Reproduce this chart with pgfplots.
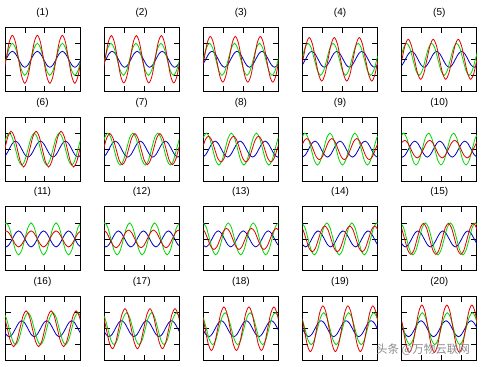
\documentclass[border=0pt]{standalone}
\usepackage{pgfplots}
\pgfplotsset{compat=1.18}
\usepackage{fontspec}
\setmainfont{Liberation Sans}
\newfontfamily\cjk{Noto Sans CJK SC}
\definecolor{mred}{RGB}{225,0,0}
\definecolor{mgreen}{RGB}{0,215,0}
\definecolor{mblue}{RGB}{0,0,195}
\pgfplotsset{
  mini/.style={width=75bp, height=64bp, scale only axis, anchor=north west,
    xmin=0, xmax=24, ymin=-2, ymax=2,
    xtick={6.366,12.732,19.099}, ytick={-1,0,1},
    xticklabels={}, yticklabels={},
    major tick length=5.5bp, tick align=inside,
    tick style={black, line width=0.7bp},
    axis line style={black, line width=0.8bp},
    every axis title/.style={at={(0.5,1)}, anchor=center, yshift=14.6bp, font=\fontsize{10bp}{11bp}\selectfont},
    clip=true},
  cb/.style={color=mblue, line width=0.8bp, smooth},
  cg/.style={color=mgreen, line width=0.8bp, smooth},
  cr/.style={color=mred, line width=0.8bp, smooth},
}
\begin{document}
\begin{tikzpicture}
\path[use as bounding box] (0,0) rectangle (484bp,367bp);
% ---------------- row 1 ----------------
\begin{axis}[mini, at={(5bp,339.7bp)}, title={(1)}]
\addplot[cb] coordinates {(-0.65,-0.35)(0.35,0)(1.35,0.35)(2.35,0.5)(3.35,0.35)(4.35,0)(5.35,-0.35)(6.35,-0.5)(7.35,-0.35)(8.35,0)(9.35,0.35)(10.35,0.5)(11.35,0.35)(12.35,0)(13.35,-0.35)(14.35,-0.5)(15.35,-0.35)(16.35,0)(17.35,0.35)(18.35,0.5)(19.35,0.35)(20.35,0)(21.35,-0.35)(22.35,-0.5)(23.35,-0.35)(24.35,0)};
\addplot[cg] coordinates {(-0.65,-0.71)(0.35,0)(1.35,0.71)(2.35,1)(3.35,0.71)(4.35,0)(5.35,-0.71)(6.35,-1)(7.35,-0.71)(8.35,0)(9.35,0.71)(10.35,1)(11.35,0.71)(12.35,0)(13.35,-0.71)(14.35,-1)(15.35,-0.71)(16.35,0)(17.35,0.71)(18.35,1)(19.35,0.71)(20.35,0)(21.35,-0.71)(22.35,-1)(23.35,-0.71)(24.35,0)};
\addplot[cr] coordinates {(-0.65,-1.06)(0.35,0)(1.35,1.06)(2.35,1.5)(3.35,1.06)(4.35,0)(5.35,-1.06)(6.35,-1.5)(7.35,-1.06)(8.35,0)(9.35,1.06)(10.35,1.5)(11.35,1.06)(12.35,0)(13.35,-1.06)(14.35,-1.5)(15.35,-1.06)(16.35,0)(17.35,1.06)(18.35,1.5)(19.35,1.06)(20.35,0)(21.35,-1.06)(22.35,-1.5)(23.35,-1.06)(24.35,0)};
\end{axis}
\begin{axis}[mini, at={(104.2bp,339.7bp)}, title={(2)}]
\addplot[cb] coordinates {(-0.45,-0.35)(0.55,0)(1.55,0.35)(2.55,0.5)(3.55,0.35)(4.55,0)(5.55,-0.35)(6.55,-0.5)(7.55,-0.35)(8.55,0)(9.55,0.35)(10.55,0.5)(11.55,0.35)(12.55,0)(13.55,-0.35)(14.55,-0.5)(15.55,-0.35)(16.55,0)(17.55,0.35)(18.55,0.5)(19.55,0.35)(20.55,0)(21.55,-0.35)(22.55,-0.5)(23.55,-0.35)(24.55,0)};
\addplot[cg] coordinates {(-0.85,-0.71)(0.15,0)(1.15,0.71)(2.15,1)(3.15,0.71)(4.15,0)(5.15,-0.71)(6.15,-1)(7.15,-0.71)(8.15,0)(9.15,0.71)(10.15,1)(11.15,0.71)(12.15,0)(13.15,-0.71)(14.15,-1)(15.15,-0.71)(16.15,0)(17.15,0.71)(18.15,1)(19.15,0.71)(20.15,0)(21.15,-0.71)(22.15,-1)(23.15,-0.71)(24.15,0)};
\addplot[cr] coordinates {(-0.72,-1.05)(0.28,0)(1.28,1.05)(2.28,1.48)(3.28,1.05)(4.28,0)(5.28,-1.05)(6.28,-1.48)(7.28,-1.05)(8.28,0)(9.28,1.05)(10.28,1.48)(11.28,1.05)(12.28,0)(13.28,-1.05)(14.28,-1.48)(15.28,-1.05)(16.28,0)(17.28,1.05)(18.28,1.48)(19.28,1.05)(20.28,0)(21.28,-1.05)(22.28,-1.48)(23.28,-1.05)(24.28,0)};
\end{axis}
\begin{axis}[mini, at={(203.4bp,339.7bp)}, title={(3)}]
\addplot[cb] coordinates {(-0.25,-0.35)(0.75,0)(1.75,0.35)(2.75,0.5)(3.75,0.35)(4.75,0)(5.75,-0.35)(6.75,-0.5)(7.75,-0.35)(8.75,0)(9.75,0.35)(10.75,0.5)(11.75,0.35)(12.75,0)(13.75,-0.35)(14.75,-0.5)(15.75,-0.35)(16.75,0)(17.75,0.35)(18.75,0.5)(19.75,0.35)(20.75,0)(21.75,-0.35)(22.75,-0.5)(23.75,-0.35)(24.75,0)};
\addplot[cg] coordinates {(-0.05,0)(0.95,0.71)(1.95,1)(2.95,0.71)(3.95,0)(4.95,-0.71)(5.95,-1)(6.95,-0.71)(7.95,0)(8.95,0.71)(9.95,1)(10.95,0.71)(11.95,0)(12.95,-0.71)(13.95,-1)(14.95,-0.71)(15.95,0)(16.95,0.71)(17.95,1)(18.95,0.71)(19.95,0)(20.95,-0.71)(21.95,-1)(22.95,-0.71)(23.95,0)(24.95,0.71)};
\addplot[cr] coordinates {(-0.79,-1.01)(0.21,0)(1.21,1.01)(2.21,1.43)(3.21,1.01)(4.21,0)(5.21,-1.01)(6.21,-1.43)(7.21,-1.01)(8.21,0)(9.21,1.01)(10.21,1.43)(11.21,1.01)(12.21,0)(13.21,-1.01)(14.21,-1.43)(15.21,-1.01)(16.21,0)(17.21,1.01)(18.21,1.43)(19.21,1.01)(20.21,0)(21.21,-1.01)(22.21,-1.43)(23.21,-1.01)(24.21,0)};
\end{axis}
\begin{axis}[mini, at={(302.6bp,339.7bp)}, title={(4)}]
\addplot[cb] coordinates {(-0.05,-0.35)(0.95,0)(1.95,0.35)(2.95,0.5)(3.95,0.35)(4.95,0)(5.95,-0.35)(6.95,-0.5)(7.95,-0.35)(8.95,0)(9.95,0.35)(10.95,0.5)(11.95,0.35)(12.95,0)(13.95,-0.35)(14.95,-0.5)(15.95,-0.35)(16.95,0)(17.95,0.35)(18.95,0.5)(19.95,0.35)(20.95,0)(21.95,-0.35)(22.95,-0.5)(23.95,-0.35)(24.95,0)};
\addplot[cg] coordinates {(-0.25,0)(0.75,0.71)(1.75,1)(2.75,0.71)(3.75,0)(4.75,-0.71)(5.75,-1)(6.75,-0.71)(7.75,0)(8.75,0.71)(9.75,1)(10.75,0.71)(11.75,0)(12.75,-0.71)(13.75,-1)(14.75,-0.71)(15.75,0)(16.75,0.71)(17.75,1)(18.75,0.71)(19.75,0)(20.75,-0.71)(21.75,-1)(22.75,-0.71)(23.75,0)(24.75,0.71)};
\addplot[cr] coordinates {(-0.86,-0.96)(0.14,0)(1.14,0.96)(2.14,1.36)(3.14,0.96)(4.14,0)(5.14,-0.96)(6.14,-1.36)(7.14,-0.96)(8.14,0)(9.14,0.96)(10.14,1.36)(11.14,0.96)(12.14,0)(13.14,-0.96)(14.14,-1.36)(15.14,-0.96)(16.14,0)(17.14,0.96)(18.14,1.36)(19.14,0.96)(20.14,0)(21.14,-0.96)(22.14,-1.36)(23.14,-0.96)(24.14,0)};
\end{axis}
\begin{axis}[mini, at={(401.8bp,339.7bp)}, title={(5)}]
\addplot[cb] coordinates {(-0.85,-0.5)(0.15,-0.35)(1.15,0)(2.15,0.35)(3.15,0.5)(4.15,0.35)(5.15,0)(6.15,-0.35)(7.15,-0.5)(8.15,-0.35)(9.15,0)(10.15,0.35)(11.15,0.5)(12.15,0.35)(13.15,0)(14.15,-0.35)(15.15,-0.5)(16.15,-0.35)(17.15,0)(18.15,0.35)(19.15,0.5)(20.15,0.35)(21.15,0)(22.15,-0.35)(23.15,-0.5)(24.15,-0.35)};
\addplot[cg] coordinates {(-0.45,0)(0.55,0.71)(1.55,1)(2.55,0.71)(3.55,0)(4.55,-0.71)(5.55,-1)(6.55,-0.71)(7.55,0)(8.55,0.71)(9.55,1)(10.55,0.71)(11.55,0)(12.55,-0.71)(13.55,-1)(14.55,-0.71)(15.55,0)(16.55,0.71)(17.55,1)(18.55,0.71)(19.55,0)(20.55,-0.71)(21.55,-1)(22.55,-0.71)(23.55,0)(24.55,0.71)};
\addplot[cr] coordinates {(-0.95,-0.88)(0.05,0)(1.05,0.88)(2.05,1.25)(3.05,0.88)(4.05,0)(5.05,-0.88)(6.05,-1.25)(7.05,-0.88)(8.05,0)(9.05,0.88)(10.05,1.25)(11.05,0.88)(12.05,0)(13.05,-0.88)(14.05,-1.25)(15.05,-0.88)(16.05,0)(17.05,0.88)(18.05,1.25)(19.05,0.88)(20.05,0)(21.05,-0.88)(22.05,-1.25)(23.05,-0.88)(24.05,0)};
\end{axis}
% ---------------- row 2 ----------------
\begin{axis}[mini, at={(5bp,249.9bp)}, title={(6)}]
\addplot[cb] coordinates {(-0.65,-0.5)(0.35,-0.35)(1.35,0)(2.35,0.35)(3.35,0.5)(4.35,0.35)(5.35,0)(6.35,-0.35)(7.35,-0.5)(8.35,-0.35)(9.35,0)(10.35,0.35)(11.35,0.5)(12.35,0.35)(13.35,0)(14.35,-0.35)(15.35,-0.5)(16.35,-0.35)(17.35,0)(18.35,0.35)(19.35,0.5)(20.35,0.35)(21.35,0)(22.35,-0.35)(23.35,-0.5)(24.35,-0.35)};
\addplot[cg] coordinates {(-0.65,0)(0.35,0.71)(1.35,1)(2.35,0.71)(3.35,0)(4.35,-0.71)(5.35,-1)(6.35,-0.71)(7.35,0)(8.35,0.71)(9.35,1)(10.35,0.71)(11.35,0)(12.35,-0.71)(13.35,-1)(14.35,-0.71)(15.35,0)(16.35,0.71)(17.35,1)(18.35,0.71)(19.35,0)(20.35,-0.71)(21.35,-1)(22.35,-0.71)(23.35,0)(24.35,0.71)};
\addplot[cr] coordinates {(-0.06,0)(0.94,0.79)(1.94,1.12)(2.94,0.79)(3.94,0)(4.94,-0.79)(5.94,-1.12)(6.94,-0.79)(7.94,0)(8.94,0.79)(9.94,1.12)(10.94,0.79)(11.94,0)(12.94,-0.79)(13.94,-1.12)(14.94,-0.79)(15.94,0)(16.94,0.79)(17.94,1.12)(18.94,0.79)(19.94,0)(20.94,-0.79)(21.94,-1.12)(22.94,-0.79)(23.94,0)(24.94,0.79)};
\end{axis}
\begin{axis}[mini, at={(104.2bp,249.9bp)}, title={(7)}]
\addplot[cb] coordinates {(-0.45,-0.5)(0.55,-0.35)(1.55,0)(2.55,0.35)(3.55,0.5)(4.55,0.35)(5.55,0)(6.55,-0.35)(7.55,-0.5)(8.55,-0.35)(9.55,0)(10.55,0.35)(11.55,0.5)(12.55,0.35)(13.55,0)(14.55,-0.35)(15.55,-0.5)(16.55,-0.35)(17.55,0)(18.55,0.35)(19.55,0.5)(20.55,0.35)(21.55,0)(22.55,-0.35)(23.55,-0.5)(24.55,-0.35)};
\addplot[cg] coordinates {(-0.85,0)(0.15,0.71)(1.15,1)(2.15,0.71)(3.15,0)(4.15,-0.71)(5.15,-1)(6.15,-0.71)(7.15,0)(8.15,0.71)(9.15,1)(10.15,0.71)(11.15,0)(12.15,-0.71)(13.15,-1)(14.15,-0.71)(15.15,0)(16.15,0.71)(17.15,1)(18.15,0.71)(19.15,0)(20.15,-0.71)(21.15,-1)(22.15,-0.71)(23.15,0)(24.15,0.71)};
\addplot[cr] coordinates {(-0.2,0)(0.8,0.69)(1.8,0.97)(2.8,0.69)(3.8,0)(4.8,-0.69)(5.8,-0.97)(6.8,-0.69)(7.8,0)(8.8,0.69)(9.8,0.97)(10.8,0.69)(11.8,0)(12.8,-0.69)(13.8,-0.97)(14.8,-0.69)(15.8,0)(16.8,0.69)(17.8,0.97)(18.8,0.69)(19.8,0)(20.8,-0.69)(21.8,-0.97)(22.8,-0.69)(23.8,0)(24.8,0.69)};
\end{axis}
\begin{axis}[mini, at={(203.4bp,249.9bp)}, title={(8)}]
\addplot[cb] coordinates {(-0.25,-0.5)(0.75,-0.35)(1.75,0)(2.75,0.35)(3.75,0.5)(4.75,0.35)(5.75,0)(6.75,-0.35)(7.75,-0.5)(8.75,-0.35)(9.75,0)(10.75,0.35)(11.75,0.5)(12.75,0.35)(13.75,0)(14.75,-0.35)(15.75,-0.5)(16.75,-0.35)(17.75,0)(18.75,0.35)(19.75,0.5)(20.75,0.35)(21.75,0)(22.75,-0.35)(23.75,-0.5)(24.75,-0.35)};
\addplot[cg] coordinates {(-0.05,0.71)(0.95,1)(1.95,0.71)(2.95,0)(3.95,-0.71)(4.95,-1)(5.95,-0.71)(6.95,0)(7.95,0.71)(8.95,1)(9.95,0.71)(10.95,0)(11.95,-0.71)(12.95,-1)(13.95,-0.71)(14.95,0)(15.95,0.71)(16.95,1)(17.95,0.71)(18.95,0)(19.95,-0.71)(20.95,-1)(21.95,-0.71)(22.95,0)(23.95,0.71)(24.95,1)};
\addplot[cr] coordinates {(-0.39,0)(0.61,0.58)(1.61,0.81)(2.61,0.58)(3.61,0)(4.61,-0.58)(5.61,-0.81)(6.61,-0.58)(7.61,0)(8.61,0.58)(9.61,0.81)(10.61,0.58)(11.61,0)(12.61,-0.58)(13.61,-0.81)(14.61,-0.58)(15.61,0)(16.61,0.58)(17.61,0.81)(18.61,0.58)(19.61,0)(20.61,-0.58)(21.61,-0.81)(22.61,-0.58)(23.61,0)(24.61,0.58)};
\end{axis}
\begin{axis}[mini, at={(302.6bp,249.9bp)}, title={(9)}]
\addplot[cb] coordinates {(-0.05,-0.5)(0.95,-0.35)(1.95,0)(2.95,0.35)(3.95,0.5)(4.95,0.35)(5.95,0)(6.95,-0.35)(7.95,-0.5)(8.95,-0.35)(9.95,0)(10.95,0.35)(11.95,0.5)(12.95,0.35)(13.95,0)(14.95,-0.35)(15.95,-0.5)(16.95,-0.35)(17.95,0)(18.95,0.35)(19.95,0.5)(20.95,0.35)(21.95,0)(22.95,-0.35)(23.95,-0.5)(24.95,-0.35)};
\addplot[cg] coordinates {(-0.25,0.71)(0.75,1)(1.75,0.71)(2.75,0)(3.75,-0.71)(4.75,-1)(5.75,-0.71)(6.75,0)(7.75,0.71)(8.75,1)(9.75,0.71)(10.75,0)(11.75,-0.71)(12.75,-1)(13.75,-0.71)(14.75,0)(15.75,0.71)(16.75,1)(17.75,0.71)(18.75,0)(19.75,-0.71)(20.75,-1)(21.75,-0.71)(22.75,0)(23.75,0.71)(24.75,1)};
\addplot[cr] coordinates {(-0.67,0)(0.33,0.47)(1.33,0.66)(2.33,0.47)(3.33,0)(4.33,-0.47)(5.33,-0.66)(6.33,-0.47)(7.33,0)(8.33,0.47)(9.33,0.66)(10.33,0.47)(11.33,0)(12.33,-0.47)(13.33,-0.66)(14.33,-0.47)(15.33,0)(16.33,0.47)(17.33,0.66)(18.33,0.47)(19.33,0)(20.33,-0.47)(21.33,-0.66)(22.33,-0.47)(23.33,0)(24.33,0.47)};
\end{axis}
\begin{axis}[mini, at={(401.8bp,249.9bp)}, title={(10)}]
\addplot[cb] coordinates {(-0.85,-0.35)(0.15,-0.5)(1.15,-0.35)(2.15,0)(3.15,0.35)(4.15,0.5)(5.15,0.35)(6.15,0)(7.15,-0.35)(8.15,-0.5)(9.15,-0.35)(10.15,0)(11.15,0.35)(12.15,0.5)(13.15,0.35)(14.15,0)(15.15,-0.35)(16.15,-0.5)(17.15,-0.35)(18.15,0)(19.15,0.35)(20.15,0.5)(21.15,0.35)(22.15,0)(23.15,-0.35)(24.15,-0.5)};
\addplot[cg] coordinates {(-0.45,0.71)(0.55,1)(1.55,0.71)(2.55,0)(3.55,-0.71)(4.55,-1)(5.55,-0.71)(6.55,0)(7.55,0.71)(8.55,1)(9.55,0.71)(10.55,0)(11.55,-0.71)(12.55,-1)(13.55,-0.71)(14.55,0)(15.55,0.71)(16.55,1)(17.55,0.71)(18.55,0)(19.55,-0.71)(20.55,-1)(21.55,-0.71)(22.55,0)(23.55,0.71)(24.55,1)};
\addplot[cr] coordinates {(-0.09,0.39)(0.91,0.55)(1.91,0.39)(2.91,0)(3.91,-0.39)(4.91,-0.55)(5.91,-0.39)(6.91,0)(7.91,0.39)(8.91,0.55)(9.91,0.39)(10.91,0)(11.91,-0.39)(12.91,-0.55)(13.91,-0.39)(14.91,0)(15.91,0.39)(16.91,0.55)(17.91,0.39)(18.91,0)(19.91,-0.39)(20.91,-0.55)(21.91,-0.39)(22.91,0)(23.91,0.39)(24.91,0.55)};
\end{axis}
% ---------------- row 3 ----------------
\begin{axis}[mini, at={(5bp,160.1bp)}, title={(11)}]
\addplot[cb] coordinates {(-0.65,-0.35)(0.35,-0.5)(1.35,-0.35)(2.35,0)(3.35,0.35)(4.35,0.5)(5.35,0.35)(6.35,0)(7.35,-0.35)(8.35,-0.5)(9.35,-0.35)(10.35,0)(11.35,0.35)(12.35,0.5)(13.35,0.35)(14.35,0)(15.35,-0.35)(16.35,-0.5)(17.35,-0.35)(18.35,0)(19.35,0.35)(20.35,0.5)(21.35,0.35)(22.35,0)(23.35,-0.35)(24.35,-0.5)};
\addplot[cg] coordinates {(-0.65,0.71)(0.35,1)(1.35,0.71)(2.35,0)(3.35,-0.71)(4.35,-1)(5.35,-0.71)(6.35,0)(7.35,0.71)(8.35,1)(9.35,0.71)(10.35,0)(11.35,-0.71)(12.35,-1)(13.35,-0.71)(14.35,0)(15.35,0.71)(16.35,1)(17.35,0.71)(18.35,0)(19.35,-0.71)(20.35,-1)(21.35,-0.71)(22.35,0)(23.35,0.71)(24.35,1)};
\addplot[cr] coordinates {(-0.65,0.35)(0.35,0.5)(1.35,0.35)(2.35,0)(3.35,-0.35)(4.35,-0.5)(5.35,-0.35)(6.35,0)(7.35,0.35)(8.35,0.5)(9.35,0.35)(10.35,0)(11.35,-0.35)(12.35,-0.5)(13.35,-0.35)(14.35,0)(15.35,0.35)(16.35,0.5)(17.35,0.35)(18.35,0)(19.35,-0.35)(20.35,-0.5)(21.35,-0.35)(22.35,0)(23.35,0.35)(24.35,0.5)};
\end{axis}
\begin{axis}[mini, at={(104.2bp,160.1bp)}, title={(12)}]
\addplot[cb] coordinates {(-0.45,-0.35)(0.55,-0.5)(1.55,-0.35)(2.55,0)(3.55,0.35)(4.55,0.5)(5.55,0.35)(6.55,0)(7.55,-0.35)(8.55,-0.5)(9.55,-0.35)(10.55,0)(11.55,0.35)(12.55,0.5)(13.55,0.35)(14.55,0)(15.55,-0.35)(16.55,-0.5)(17.55,-0.35)(18.55,0)(19.55,0.35)(20.55,0.5)(21.55,0.35)(22.55,0)(23.55,-0.35)(24.55,-0.5)};
\addplot[cg] coordinates {(-0.85,0.71)(0.15,1)(1.15,0.71)(2.15,0)(3.15,-0.71)(4.15,-1)(5.15,-0.71)(6.15,0)(7.15,0.71)(8.15,1)(9.15,0.71)(10.15,0)(11.15,-0.71)(12.15,-1)(13.15,-0.71)(14.15,0)(15.15,0.71)(16.15,1)(17.15,0.71)(18.15,0)(19.15,-0.71)(20.15,-1)(21.15,-0.71)(22.15,0)(23.15,0.71)(24.15,1)};
\addplot[cr] coordinates {(-0.21,0.55)(0.79,0.39)(1.79,0)(2.79,-0.39)(3.79,-0.55)(4.79,-0.39)(5.79,0)(6.79,0.39)(7.79,0.55)(8.79,0.39)(9.79,0)(10.79,-0.39)(11.79,-0.55)(12.79,-0.39)(13.79,0)(14.79,0.39)(15.79,0.55)(16.79,0.39)(17.79,0)(18.79,-0.39)(19.79,-0.55)(20.79,-0.39)(21.79,0)(22.79,0.39)(23.79,0.55)(24.79,0.39)};
\end{axis}
\begin{axis}[mini, at={(203.4bp,160.1bp)}, title={(13)}]
\addplot[cb] coordinates {(-0.25,-0.35)(0.75,-0.5)(1.75,-0.35)(2.75,0)(3.75,0.35)(4.75,0.5)(5.75,0.35)(6.75,0)(7.75,-0.35)(8.75,-0.5)(9.75,-0.35)(10.75,0)(11.75,0.35)(12.75,0.5)(13.75,0.35)(14.75,0)(15.75,-0.35)(16.75,-0.5)(17.75,-0.35)(18.75,0)(19.75,0.35)(20.75,0.5)(21.75,0.35)(22.75,0)(23.75,-0.35)(24.75,-0.5)};
\addplot[cg] coordinates {(-0.05,1)(0.95,0.71)(1.95,0)(2.95,-0.71)(3.95,-1)(4.95,-0.71)(5.95,0)(6.95,0.71)(7.95,1)(8.95,0.71)(9.95,0)(10.95,-0.71)(11.95,-1)(12.95,-0.71)(13.95,0)(14.95,0.71)(15.95,1)(16.95,0.71)(17.95,0)(18.95,-0.71)(19.95,-1)(20.95,-0.71)(21.95,0)(22.95,0.71)(23.95,1)(24.95,0.71)};
\addplot[cr] coordinates {(-0.63,0.66)(0.37,0.47)(1.37,0)(2.37,-0.47)(3.37,-0.66)(4.37,-0.47)(5.37,0)(6.37,0.47)(7.37,0.66)(8.37,0.47)(9.37,0)(10.37,-0.47)(11.37,-0.66)(12.37,-0.47)(13.37,0)(14.37,0.47)(15.37,0.66)(16.37,0.47)(17.37,0)(18.37,-0.47)(19.37,-0.66)(20.37,-0.47)(21.37,0)(22.37,0.47)(23.37,0.66)(24.37,0.47)};
\end{axis}
\begin{axis}[mini, at={(302.6bp,160.1bp)}, title={(14)}]
\addplot[cb] coordinates {(-0.05,-0.35)(0.95,-0.5)(1.95,-0.35)(2.95,0)(3.95,0.35)(4.95,0.5)(5.95,0.35)(6.95,0)(7.95,-0.35)(8.95,-0.5)(9.95,-0.35)(10.95,0)(11.95,0.35)(12.95,0.5)(13.95,0.35)(14.95,0)(15.95,-0.35)(16.95,-0.5)(17.95,-0.35)(18.95,0)(19.95,0.35)(20.95,0.5)(21.95,0.35)(22.95,0)(23.95,-0.35)(24.95,-0.5)};
\addplot[cg] coordinates {(-0.25,1)(0.75,0.71)(1.75,0)(2.75,-0.71)(3.75,-1)(4.75,-0.71)(5.75,0)(6.75,0.71)(7.75,1)(8.75,0.71)(9.75,0)(10.75,-0.71)(11.75,-1)(12.75,-0.71)(13.75,0)(14.75,0.71)(15.75,1)(16.75,0.71)(17.75,0)(18.75,-0.71)(19.75,-1)(20.75,-0.71)(21.75,0)(22.75,0.71)(23.75,1)(24.75,0.71)};
\addplot[cr] coordinates {(-0.91,0.81)(0.09,0.58)(1.09,0)(2.09,-0.58)(3.09,-0.81)(4.09,-0.58)(5.09,0)(6.09,0.58)(7.09,0.81)(8.09,0.58)(9.09,0)(10.09,-0.58)(11.09,-0.81)(12.09,-0.58)(13.09,0)(14.09,0.58)(15.09,0.81)(16.09,0.58)(17.09,0)(18.09,-0.58)(19.09,-0.81)(20.09,-0.58)(21.09,0)(22.09,0.58)(23.09,0.81)(24.09,0.58)};
\end{axis}
\begin{axis}[mini, at={(401.8bp,160.1bp)}, title={(15)}]
\addplot[cb] coordinates {(-0.85,0)(0.15,-0.35)(1.15,-0.5)(2.15,-0.35)(3.15,0)(4.15,0.35)(5.15,0.5)(6.15,0.35)(7.15,0)(8.15,-0.35)(9.15,-0.5)(10.15,-0.35)(11.15,0)(12.15,0.35)(13.15,0.5)(14.15,0.35)(15.15,0)(16.15,-0.35)(17.15,-0.5)(18.15,-0.35)(19.15,0)(20.15,0.35)(21.15,0.5)(22.15,0.35)(23.15,0)(24.15,-0.35)};
\addplot[cg] coordinates {(-0.45,1)(0.55,0.71)(1.55,0)(2.55,-0.71)(3.55,-1)(4.55,-0.71)(5.55,0)(6.55,0.71)(7.55,1)(8.55,0.71)(9.55,0)(10.55,-0.71)(11.55,-1)(12.55,-0.71)(13.55,0)(14.55,0.71)(15.55,1)(16.55,0.71)(17.55,0)(18.55,-0.71)(19.55,-1)(20.55,-0.71)(21.55,0)(22.55,0.71)(23.55,1)(24.55,0.71)};
\addplot[cr] coordinates {(-0.1,0.69)(0.9,0)(1.9,-0.69)(2.9,-0.97)(3.9,-0.69)(4.9,0)(5.9,0.69)(6.9,0.97)(7.9,0.69)(8.9,0)(9.9,-0.69)(10.9,-0.97)(11.9,-0.69)(12.9,0)(13.9,0.69)(14.9,0.97)(15.9,0.69)(16.9,0)(17.9,-0.69)(18.9,-0.97)(19.9,-0.69)(20.9,0)(21.9,0.69)(22.9,0.97)(23.9,0.69)(24.9,0)};
\end{axis}
% ---------------- row 4 ----------------
\begin{axis}[mini, at={(5bp,70.3bp)}, title={(16)}]
\addplot[cb] coordinates {(-0.65,0)(0.35,-0.35)(1.35,-0.5)(2.35,-0.35)(3.35,0)(4.35,0.35)(5.35,0.5)(6.35,0.35)(7.35,0)(8.35,-0.35)(9.35,-0.5)(10.35,-0.35)(11.35,0)(12.35,0.35)(13.35,0.5)(14.35,0.35)(15.35,0)(16.35,-0.35)(17.35,-0.5)(18.35,-0.35)(19.35,0)(20.35,0.35)(21.35,0.5)(22.35,0.35)(23.35,0)(24.35,-0.35)};
\addplot[cg] coordinates {(-0.65,1)(0.35,0.71)(1.35,0)(2.35,-0.71)(3.35,-1)(4.35,-0.71)(5.35,0)(6.35,0.71)(7.35,1)(8.35,0.71)(9.35,0)(10.35,-0.71)(11.35,-1)(12.35,-0.71)(13.35,0)(14.35,0.71)(15.35,1)(16.35,0.71)(17.35,0)(18.35,-0.71)(19.35,-1)(20.35,-0.71)(21.35,0)(22.35,0.71)(23.35,1)(24.35,0.71)};
\addplot[cr] coordinates {(-0.24,0.79)(0.76,0)(1.76,-0.79)(2.76,-1.12)(3.76,-0.79)(4.76,0)(5.76,0.79)(6.76,1.12)(7.76,0.79)(8.76,0)(9.76,-0.79)(10.76,-1.12)(11.76,-0.79)(12.76,0)(13.76,0.79)(14.76,1.12)(15.76,0.79)(16.76,0)(17.76,-0.79)(18.76,-1.12)(19.76,-0.79)(20.76,0)(21.76,0.79)(22.76,1.12)(23.76,0.79)(24.76,0)};
\end{axis}
\begin{axis}[mini, at={(104.2bp,70.3bp)}, title={(17)}]
\addplot[cb] coordinates {(-0.45,0)(0.55,-0.35)(1.55,-0.5)(2.55,-0.35)(3.55,0)(4.55,0.35)(5.55,0.5)(6.55,0.35)(7.55,0)(8.55,-0.35)(9.55,-0.5)(10.55,-0.35)(11.55,0)(12.55,0.35)(13.55,0.5)(14.55,0.35)(15.55,0)(16.55,-0.35)(17.55,-0.5)(18.55,-0.35)(19.55,0)(20.55,0.35)(21.55,0.5)(22.55,0.35)(23.55,0)(24.55,-0.35)};
\addplot[cg] coordinates {(-0.85,1)(0.15,0.71)(1.15,0)(2.15,-0.71)(3.15,-1)(4.15,-0.71)(5.15,0)(6.15,0.71)(7.15,1)(8.15,0.71)(9.15,0)(10.15,-0.71)(11.15,-1)(12.15,-0.71)(13.15,0)(14.15,0.71)(15.15,1)(16.15,0.71)(17.15,0)(18.15,-0.71)(19.15,-1)(20.15,-0.71)(21.15,0)(22.15,0.71)(23.15,1)(24.15,0.71)};
\addplot[cr] coordinates {(-0.35,0.88)(0.65,0)(1.65,-0.88)(2.65,-1.25)(3.65,-0.88)(4.65,0)(5.65,0.88)(6.65,1.25)(7.65,0.88)(8.65,0)(9.65,-0.88)(10.65,-1.25)(11.65,-0.88)(12.65,0)(13.65,0.88)(14.65,1.25)(15.65,0.88)(16.65,0)(17.65,-0.88)(18.65,-1.25)(19.65,-0.88)(20.65,0)(21.65,0.88)(22.65,1.25)(23.65,0.88)(24.65,0)};
\end{axis}
\begin{axis}[mini, at={(203.4bp,70.3bp)}, title={(18)}]
\addplot[cb] coordinates {(-0.25,0)(0.75,-0.35)(1.75,-0.5)(2.75,-0.35)(3.75,0)(4.75,0.35)(5.75,0.5)(6.75,0.35)(7.75,0)(8.75,-0.35)(9.75,-0.5)(10.75,-0.35)(11.75,0)(12.75,0.35)(13.75,0.5)(14.75,0.35)(15.75,0)(16.75,-0.35)(17.75,-0.5)(18.75,-0.35)(19.75,0)(20.75,0.35)(21.75,0.5)(22.75,0.35)(23.75,0)(24.75,-0.35)};
\addplot[cg] coordinates {(-0.05,0.71)(0.95,0)(1.95,-0.71)(2.95,-1)(3.95,-0.71)(4.95,0)(5.95,0.71)(6.95,1)(7.95,0.71)(8.95,0)(9.95,-0.71)(10.95,-1)(11.95,-0.71)(12.95,0)(13.95,0.71)(14.95,1)(15.95,0.71)(16.95,0)(17.95,-0.71)(18.95,-1)(19.95,-0.71)(20.95,0)(21.95,0.71)(22.95,1)(23.95,0.71)(24.95,0)};
\addplot[cr] coordinates {(-0.44,0.96)(0.56,0)(1.56,-0.96)(2.56,-1.36)(3.56,-0.96)(4.56,0)(5.56,0.96)(6.56,1.36)(7.56,0.96)(8.56,0)(9.56,-0.96)(10.56,-1.36)(11.56,-0.96)(12.56,0)(13.56,0.96)(14.56,1.36)(15.56,0.96)(16.56,0)(17.56,-0.96)(18.56,-1.36)(19.56,-0.96)(20.56,0)(21.56,0.96)(22.56,1.36)(23.56,0.96)(24.56,0)};
\end{axis}
\begin{axis}[mini, at={(302.6bp,70.3bp)}, title={(19)}]
\addplot[cb] coordinates {(-0.05,0)(0.95,-0.35)(1.95,-0.5)(2.95,-0.35)(3.95,0)(4.95,0.35)(5.95,0.5)(6.95,0.35)(7.95,0)(8.95,-0.35)(9.95,-0.5)(10.95,-0.35)(11.95,0)(12.95,0.35)(13.95,0.5)(14.95,0.35)(15.95,0)(16.95,-0.35)(17.95,-0.5)(18.95,-0.35)(19.95,0)(20.95,0.35)(21.95,0.5)(22.95,0.35)(23.95,0)(24.95,-0.35)};
\addplot[cg] coordinates {(-0.25,0.71)(0.75,0)(1.75,-0.71)(2.75,-1)(3.75,-0.71)(4.75,0)(5.75,0.71)(6.75,1)(7.75,0.71)(8.75,0)(9.75,-0.71)(10.75,-1)(11.75,-0.71)(12.75,0)(13.75,0.71)(14.75,1)(15.75,0.71)(16.75,0)(17.75,-0.71)(18.75,-1)(19.75,-0.71)(20.75,0)(21.75,0.71)(22.75,1)(23.75,0.71)(24.75,0)};
\addplot[cr] coordinates {(-0.51,1.01)(0.49,0)(1.49,-1.01)(2.49,-1.43)(3.49,-1.01)(4.49,0)(5.49,1.01)(6.49,1.43)(7.49,1.01)(8.49,0)(9.49,-1.01)(10.49,-1.43)(11.49,-1.01)(12.49,0)(13.49,1.01)(14.49,1.43)(15.49,1.01)(16.49,0)(17.49,-1.01)(18.49,-1.43)(19.49,-1.01)(20.49,0)(21.49,1.01)(22.49,1.43)(23.49,1.01)(24.49,0)};
\end{axis}
\begin{axis}[mini, at={(401.8bp,70.3bp)}, title={(20)}]
\addplot[cb] coordinates {(-0.85,0.35)(0.15,0)(1.15,-0.35)(2.15,-0.5)(3.15,-0.35)(4.15,0)(5.15,0.35)(6.15,0.5)(7.15,0.35)(8.15,0)(9.15,-0.35)(10.15,-0.5)(11.15,-0.35)(12.15,0)(13.15,0.35)(14.15,0.5)(15.15,0.35)(16.15,0)(17.15,-0.35)(18.15,-0.5)(19.15,-0.35)(20.15,0)(21.15,0.35)(22.15,0.5)(23.15,0.35)(24.15,0)};
\addplot[cg] coordinates {(-0.45,0.71)(0.55,0)(1.55,-0.71)(2.55,-1)(3.55,-0.71)(4.55,0)(5.55,0.71)(6.55,1)(7.55,0.71)(8.55,0)(9.55,-0.71)(10.55,-1)(11.55,-0.71)(12.55,0)(13.55,0.71)(14.55,1)(15.55,0.71)(16.55,0)(17.55,-0.71)(18.55,-1)(19.55,-0.71)(20.55,0)(21.55,0.71)(22.55,1)(23.55,0.71)(24.55,0)};
\addplot[cr] coordinates {(-0.58,1.05)(0.42,0)(1.42,-1.05)(2.42,-1.48)(3.42,-1.05)(4.42,0)(5.42,1.05)(6.42,1.48)(7.42,1.05)(8.42,0)(9.42,-1.05)(10.42,-1.48)(11.42,-1.05)(12.42,0)(13.42,1.05)(14.42,1.48)(15.42,1.05)(16.42,0)(17.42,-1.05)(18.42,-1.48)(19.42,-1.05)(20.42,0)(21.42,1.05)(22.42,1.48)(23.42,1.05)(24.42,0)};
\end{axis}
\node[font=\cjk\fontsize{11.5bp}{13bp}\selectfont, text=black!45, anchor=center] at (423bp,17bp) {头条 @万物云联网};
\end{tikzpicture}
\end{document}
